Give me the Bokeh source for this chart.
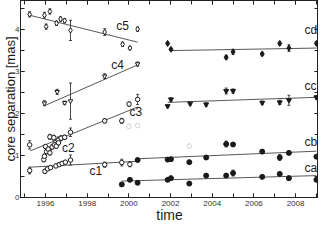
from bokeh.plotting import figure
from bokeh.models import (ColumnDataSource, Whisker, TeeHead, LinearAxis, Range1d,
                          SingleIntervalTicker)
from bokeh.core.properties import value
from bokeh.embed import file_html
from bokeh.resources import INLINE

# ---- data (epoch [yr], core separation [mas], error [mas]) ----
c5_t = [1995.24, 1995.95, 1996.03, 1996.21, 1996.53, 1996.72, 1996.92, 1997.20, 1998.84, 1999.70, 2000.05, 2000.42]
c5_r = [4.35, 4.33, 4.06, 4.42, 4.14, 4.24, 4.20, 3.97, 3.93, 3.64, 3.55, 4.00]
c5_e = [0.06, 0.07, 0.06, 0.06, 0.05, 0.05, 0.05, 0.24, 0.08, 0.05, 0.04, 0.05]

c4_t = [1995.95, 1996.56, 1996.92, 1997.20, 1998.84, 2000.42]
c4_r = [2.24, 2.51, 2.25, 2.29, 2.88, 3.17]
c4_e = [0.06, 0.06, 0.04, 0.43, 0.06, 0.05]

c3_t = [1995.24, 1996.00, 1996.21, 1996.40, 1996.61, 1996.75, 1996.92, 1997.20, 1998.84, 1999.66, 2000.01, 2000.42]
c3_r = [1.25, 1.21, 1.44, 1.42, 1.36, 1.41, 1.43, 1.55, 1.82, 1.82, 2.22, 2.33]
c3_e = [0.10, 0.05, 0.06, 0.06, 0.08, 0.06, 0.05, 0.10, 0.05, 0.06, 0.05, 0.12]

c2_t = [1995.92, 1995.95, 1996.05, 1996.13, 1996.21, 1996.32, 1996.43, 1996.52, 1996.62]
c2_r = [0.90, 0.98, 1.09, 1.15, 1.06, 1.20, 1.25, 1.22, 1.30]
c2_e = [0.05, 0.05, 0.05, 0.05, 0.05, 0.05, 0.05, 0.05, 0.05]

c1_t = [1995.24, 1995.97, 1996.10, 1996.24, 1996.50, 1996.66, 1996.80, 1996.95, 1997.20, 1998.84, 1999.66, 2000.05]
c1_r = [0.64, 0.62, 0.68, 0.71, 0.75, 0.78, 0.81, 0.84, 0.89, 0.78, 0.83, 0.79]
c1_e = [0.08, 0.05, 0.04, 0.04, 0.04, 0.04, 0.04, 0.04, 0.12, 0.06, 0.08, 0.06]

ca_t = [1999.66, 2000.05, 2000.42, 2001.86, 2002.02, 2002.90, 2003.71, 2004.67, 2005.00, 2006.40, 2007.24, 2007.68, 2009.00]
ca_r = [0.31, 0.42, 0.35, 0.42, 0.46, 0.33, 0.52, 0.52, 0.58, 0.49, 0.56, 0.46, 0.42]
ca_e = [0.03, 0.03, 0.03, 0.03, 0.03, 0.03, 0.04, 0.04, 0.07, 0.03, 0.04, 0.05, 0.03]

cb_t = [2000.42, 2001.86, 2002.02, 2002.90, 2003.71, 2004.67, 2005.00, 2006.40, 2007.24, 2007.68, 2009.00]
cb_r = [0.89, 0.90, 0.91, 0.84, 0.95, 1.27, 1.26, 1.09, 0.95, 1.06, 0.97]
cb_e = [0.03, 0.03, 0.03, 0.03, 0.04, 0.07, 0.04, 0.04, 0.07, 0.04, 0.03]

cc_t = [2001.86, 2002.02, 2002.94, 2003.71, 2004.67, 2005.00, 2006.40, 2007.24, 2007.68, 2009.00]
cc_r = [2.17, 2.33, 2.23, 2.21, 2.53, 2.53, 2.25, 2.26, 2.31, 2.38]
cc_e = [0.03, 0.04, 0.04, 0.04, 0.07, 0.05, 0.04, 0.05, 0.12, 0.04]

cd_t = [2001.86, 2002.02, 2004.67, 2005.00, 2006.40, 2007.24, 2007.68, 2009.00]
cd_r = [3.66, 3.52, 3.33, 3.46, 3.41, 3.66, 3.55, 3.66]
cd_e = [0.03, 0.03, 0.04, 0.06, 0.04, 0.04, 0.08, 0.04]

faint_t = [2000.00, 2000.42, 2002.90]
faint_r = [1.69, 1.71, 1.22]
faint_e = [0.05, 0.05, 0.05]

# linear fits (end points)
c5_fit_t, c5_fit_r = [1995.24, 2000.42], [4.33, 3.69]
c4_fit_t, c4_fit_r = [1995.95, 2000.42], [2.18, 3.15]
c3_fit_t, c3_fit_r = [1995.28, 2000.42], [1.11, 2.15]
c2_fit_t, c2_fit_r = [1995.95, 1996.75], [1.00, 1.32]
c1_fit_t, c1_fit_r = [1995.24, 2000.42], [0.72, 0.86]
ca_fit_t, ca_fit_r = [1999.66, 2009.00], [0.39, 0.52]
cb_fit_t, cb_fit_r = [2000.42, 2009.00], [0.92, 1.10]
cc_fit_t, cc_fit_r = [2001.86, 2009.00], [2.26, 2.38]
cd_fit_t, cd_fit_r = [2002.02, 2009.00], [3.49, 3.55]

inner_labels = ["c5", "c4", "c3", "c2", "c1"]
inner_label_t = [1999.70, 1999.46, 2000.34, 1997.10, 1998.41]
inner_label_r = [4.08, 3.15, 2.04, 1.17, 0.63]
edge_labels = ["cd", "cc", "cb", "ca"]
edge_label_t = [2009.04, 2009.0, 2009.04, 2009.04]
edge_label_r = [3.97, 2.64, 1.32, 0.71]

FONT = "Liberation Sans"
INK = "#1a1a1a"
AXC = "#222222"

p = figure(width=318, height=225, output_backend="svg", toolbar_location=None,
           x_range=Range1d(1994.8, 2009.1), y_range=Range1d(0, 4.68),
           min_border_left=0, min_border_right=0, min_border_top=0, min_border_bottom=0,
           border_fill_color="white")
p.grid.visible = False
p.outline_line_color = AXC
p.background_fill_color = "white"


def style_ticks(ax):
    ax.major_tick_in = 4
    ax.major_tick_out = 0
    ax.minor_tick_in = 4
    ax.minor_tick_out = 0
    ax.axis_line_color = AXC
    ax.major_tick_line_color = AXC
    ax.minor_tick_line_color = AXC


for ax in (p.xaxis[0], p.yaxis[0]):
    style_ticks(ax)
    ax.major_label_text_font = FONT
    ax.major_label_text_font_size = "8px"
    ax.major_label_text_color = "#333333"
    ax.axis_label_text_font = FONT
    ax.axis_label_text_font_style = "normal"
    ax.axis_label_text_font_size = "13px"
    ax.axis_label_text_color = INK
p.xaxis[0].major_label_standoff = 3
p.xaxis[0].axis_label_standoff = -2
p.yaxis[0].major_label_standoff = 1
p.yaxis[0].axis_label_standoff = -6
p.xaxis[0].ticker = SingleIntervalTicker(interval=2, num_minor_ticks=2)
p.yaxis[0].ticker = SingleIntervalTicker(interval=1, num_minor_ticks=2)
p.xaxis[0].axis_label = "time"
p.yaxis[0].axis_label = "core separation [mas]"
p.xaxis[0].axis_label_text_font_size = "14px"

for loc, tk in (("above", SingleIntervalTicker(interval=2, num_minor_ticks=2)),
                ("right", SingleIntervalTicker(interval=1, num_minor_ticks=2))):
    ax = LinearAxis(ticker=tk)
    style_ticks(ax)
    ax.major_label_text_font_size = "0px"
    ax.major_label_text_alpha = 0
    ax.major_label_standoff = -6
    p.add_layout(ax, loc)

LINE = "#444444"
for ft, fr in ((c5_fit_t, c5_fit_r), (c4_fit_t, c4_fit_r), (c3_fit_t, c3_fit_r),
               (c2_fit_t, c2_fit_r), (c1_fit_t, c1_fit_r), (ca_fit_t, ca_fit_r),
               (cb_fit_t, cb_fit_r), (cc_fit_t, cc_fit_r), (cd_fit_t, cd_fit_r)):
    p.line(ft, fr, line_color=LINE, line_width=0.9)


def series(t, r, e, marker, filled, color=INK, size=4.5):
    src = ColumnDataSource(dict(t=t, r=r, lo=[a - b for a, b in zip(r, e)],
                                hi=[a + b for a, b in zip(r, e)]))
    p.scatter("t", "r", source=src, marker=marker, size=size,
              line_color=color, line_width=1.0,
              fill_color=color if filled else "white")
    w = Whisker(source=src, base="t", lower="lo", upper="hi", dimension="height",
                line_color=color, line_width=0.8,
                upper_head=TeeHead(size=3, line_color=color, line_width=0.8),
                lower_head=TeeHead(size=3, line_color=color, line_width=0.8))
    p.add_layout(w)


series(faint_t, faint_r, faint_e, "circle", False, color="#d4d4d4")
series(c5_t, c5_r, c5_e, "diamond", False, size=5.5)
series(c4_t, c4_r, c4_e, "inverted_triangle", False)
series(c3_t, c3_r, c3_e, "circle", False)
series(c2_t, c2_r, c2_e, "circle", False)
series(c1_t, c1_r, c1_e, "circle", False)
series(ca_t, ca_r, ca_e, "circle", True, size=5)
series(cb_t, cb_r, cb_e, "circle", True, size=5)
series(cc_t, cc_r, cc_e, "inverted_triangle", True, size=5)
series(cd_t, cd_r, cd_e, "diamond", True, size=6)

p.text(x=inner_label_t, y=inner_label_r, text=inner_labels, text_font=value(FONT),
       text_font_size="12px", text_align="center", text_baseline="middle", text_color=INK)
p.text(x=edge_label_t, y=edge_label_r, text=edge_labels, text_font=value(FONT),
       text_font_size="12px", text_align="right", text_baseline="middle", text_color=INK)

open("out.html", "w").write(file_html(p, INLINE))
